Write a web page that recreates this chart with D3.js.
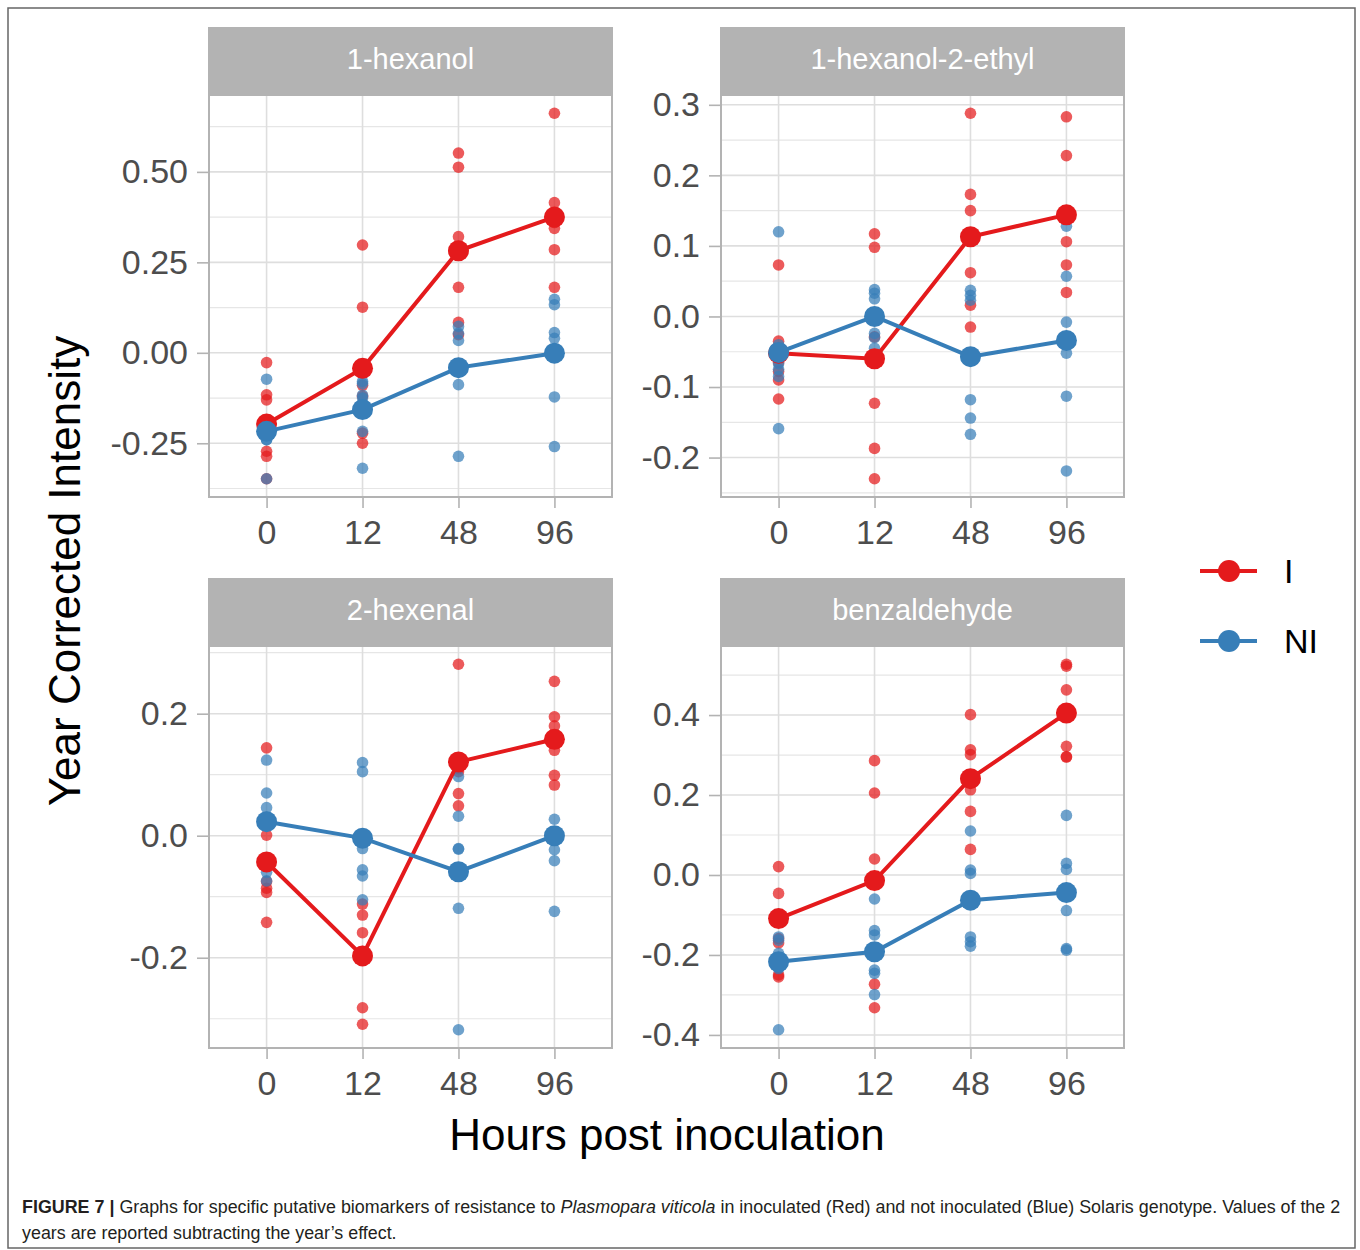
<!DOCTYPE html>
<html>
<head>
<meta charset="utf-8">
<script src="https://cdn.jsdelivr.net/npm/d3@7"></script>
<style>
  body { margin: 0; background: #fff; }
  svg text { font-family: "Liberation Sans", Arial, Helvetica, sans-serif; }
</style>
</head>
<body>
<div id="chart"></div>
<script>
//////// DATA ////////
var compounds = ["1-hexanol", "1-hexanol-2-ethyl", "2-hexenal", "benzaldehyde"];
var hours = ["0", "12", "48", "96"];
var groups = ["I", "NI"];

// y tick values and labels per panel
var yTicks = [
  [-0.25, 0, 0.25, 0.5],
  [-0.2, -0.1, 0, 0.1, 0.2, 0.3],
  [-0.2, 0, 0.2],
  [-0.4, -0.2, 0, 0.2, 0.4]
];
var yTickLabels = [
  ["-0.25", "0.00", "0.25", "0.50"],
  ["-0.2", "-0.1", "0.0", "0.1", "0.2", "0.3"],
  ["-0.2", "0.0", "0.2"],
  ["-0.4", "-0.2", "0.0", "0.2", "0.4"]
];
var yMinor = [
  [-0.375, -0.125, 0.125, 0.375, 0.625],
  [-0.25, -0.15, -0.05, 0.05, 0.15, 0.25],
  [-0.3, -0.1, 0.1, 0.3],
  [-0.3, -0.1, 0.1, 0.3, 0.5]
];

// raw observations (6 per hour) - inoculated
var hexanolI = [[-0.027, -0.116, -0.13, -0.272, -0.286, -0.348], [0.298, 0.126, -0.09, -0.12, -0.222, -0.25], [0.552, 0.513, 0.321, 0.181, 0.084, 0.05], [0.662, 0.415, 0.344, 0.285, 0.181, 0.36]];
var ethylI   = [[0.073, -0.035, -0.065, -0.078, -0.09, -0.117], [0.117, 0.098, -0.029, -0.123, -0.187, -0.230], [0.288, 0.173, 0.15, 0.062, 0.016, -0.015], [0.283, 0.228, 0.14, 0.106, 0.073, 0.034]];
var hexenalI = [[0.144, 0.001, -0.075, -0.086, -0.093, -0.142], [-0.112, -0.13, -0.159, -0.19, -0.282, -0.309], [0.281, 0.11, 0.115, 0.105, 0.069, 0.049], [0.253, 0.195, 0.18, 0.14, 0.099, 0.083]];
var benzI    = [[0.021, -0.046, -0.159, -0.17, -0.25, -0.255], [0.286, 0.205, 0.04, -0.01, -0.273, -0.332], [0.401, 0.313, 0.301, 0.213, 0.159, 0.064], [0.527, 0.522, 0.463, 0.322, 0.296, 0.295]];

// raw observations - not inoculated
var hexanolNI = [[-0.073, -0.19, -0.21, -0.24, -0.24, -0.348], [-0.079, -0.085, -0.117, -0.125, -0.217, -0.319], [0.073, 0.054, 0.034, -0.03, -0.088, -0.286], [0.148, 0.133, 0.056, 0.04, -0.122, -0.259]];
var ethylNI   = [[0.12, -0.04, -0.067, -0.075, -0.085, -0.159], [0.038, 0.033, 0.025, -0.024, -0.03, -0.045], [0.037, 0.03, 0.023, -0.118, -0.144, -0.167], [0.128, 0.057, -0.008, -0.052, -0.113, -0.219]];
var hexenalNI = [[0.124, 0.07, 0.046, 0.03, -0.06, -0.074], [0.12, 0.105, -0.021, -0.056, -0.066, -0.105], [0.097, 0.032, -0.021, -0.022, -0.119, -0.318], [0.027, 0.0, -0.005, -0.023, -0.041, -0.124]];
var benzNI    = [[-0.155, -0.163, -0.196, -0.23, -0.234, -0.387], [-0.06, -0.139, -0.15, -0.238, -0.246, -0.299], [0.11, 0.0125, 0.004, -0.155, -0.167, -0.178], [0.149, 0.029, 0.014, -0.089, -0.184, -0.188]];

// group means per hour
var meanI  = [[-0.197, -0.043, 0.282, 0.375], [-0.052, -0.06, 0.113, 0.144], [-0.043, -0.197, 0.121, 0.158], [-0.109, -0.014, 0.241, 0.405]];
var meanNI = [[-0.217, -0.157, -0.041, -0.001], [-0.051, 0.0, -0.057, -0.034], [0.023, -0.004, -0.059, 0.0], [-0.217, -0.192, -0.063, -0.044]];

var rawI = [hexanolI, ethylI, hexenalI, benzI];
var rawNI = [hexanolNI, ethylNI, hexenalNI, benzNI];

//////// LAYOUT ////////
var W = 1360, H = 1250;
var colors = { I: "#E41A1C", NI: "#377EB8" };
var panelLeft = [209, 721], panelTop = [95, 646];
var pw = 403, ph = 402, stripH = 67;

var svg = d3.select("#chart").append("svg")
  .attr("width", W).attr("height", H);

// outer frame
svg.append("rect")
  .attr("x", 8).attr("y", 8).attr("width", 1347).attr("height", 1240)
  .attr("fill", "none").attr("stroke", "#666").attr("stroke-width", 1.5);

compounds.forEach(function(name, i) {
  var px = panelLeft[i % 2], py = panelTop[Math.floor(i / 2)];
  var g = svg.append("g").attr("transform", "translate(" + px + "," + py + ")");

  var x = d3.scalePoint().domain(hours).range([0, pw]).padding(0.6);

  var all = d3.merge(rawI[i]).concat(d3.merge(rawNI[i]), meanI[i], meanNI[i]);
  var ext = d3.extent(all), pad = (ext[1] - ext[0]) * 0.05;
  var y = d3.scaleLinear().domain([ext[0] - pad, ext[1] + pad]).range([ph, 0]);

  // grid
  g.selectAll(".minor").data(yMinor[i]).enter().append("line")
    .attr("x1", 0).attr("x2", pw)
    .attr("y1", function(d) { return y(d); }).attr("y2", function(d) { return y(d); })
    .attr("stroke", "#e6e6e6").attr("stroke-width", 1.2);
  g.selectAll(".major").data(yTicks[i]).enter().append("line")
    .attr("x1", 0).attr("x2", pw)
    .attr("y1", function(d) { return y(d); }).attr("y2", function(d) { return y(d); })
    .attr("stroke", "#dedede").attr("stroke-width", 1.6);
  g.selectAll(".vgrid").data(hours).enter().append("line")
    .attr("y1", 0).attr("y2", ph)
    .attr("x1", function(d) { return x(d); }).attr("x2", function(d) { return x(d); })
    .attr("stroke", "#dedede").attr("stroke-width", 1.6);

  // axes
  var yAxis = g.append("g").call(d3.axisLeft(y).tickValues(yTicks[i])
      .tickFormat(function(d, k) { return yTickLabels[i][k]; })
      .tickSize(12).tickPadding(9));
  var xAxis = g.append("g").attr("transform", "translate(0," + ph + ")")
    .call(d3.axisBottom(x).tickSize(11).tickPadding(12));
  [yAxis, xAxis].forEach(function(a) {
    a.select(".domain").remove();
    a.selectAll(".tick line").attr("stroke", "#b3b3b3").attr("stroke-width", 1.6);
    a.selectAll(".tick text").attr("fill", "#4d4d4d").style("font-size", "34px")
      .style("font-family", "'Liberation Sans', Arial, sans-serif");
  });

  // raw points
  groups.forEach(function(grp) {
    var raw = grp === "I" ? rawI[i] : rawNI[i];
    var pts = [];
    raw.forEach(function(vals, h) {
      vals.forEach(function(v) { pts.push({ h: hours[h], v: v }); });
    });
    g.selectAll(".pt" + grp).data(pts).enter().append("circle")
      .attr("cx", function(d) { return x(d.h); })
      .attr("cy", function(d) { return y(d.v); })
      .attr("r", 5.8)
      .attr("fill", colors[grp]).attr("fill-opacity", 0.72);
  });

  // mean lines and points
  groups.forEach(function(grp) {
    var m = grp === "I" ? meanI[i] : meanNI[i];
    var line = d3.line().x(function(d, k) { return x(hours[k]); }).y(function(d) { return y(d); });
    g.append("path").datum(m).attr("d", line)
      .attr("fill", "none").attr("stroke", colors[grp]).attr("stroke-width", 4);
    g.selectAll(".mean" + grp).data(m).enter().append("circle")
      .attr("cx", function(d, k) { return x(hours[k]); })
      .attr("cy", function(d) { return y(d); })
      .attr("r", 10.5).attr("fill", colors[grp]);
  });

  // panel border
  g.append("rect").attr("width", pw).attr("height", ph)
    .attr("fill", "none").attr("stroke", "#b3b3b3").attr("stroke-width", 2);

  // strip
  g.append("rect").attr("x", -1).attr("y", -stripH - 1).attr("width", pw + 2).attr("height", stripH)
    .attr("fill", "#b3b3b3");
  g.append("text").attr("x", pw / 2).attr("y", -stripH / 2 - 3)
    .attr("text-anchor", "middle").attr("dominant-baseline", "central")
    .attr("fill", "#fff").style("font-size", "29px").text(name);
});

// axis titles
svg.append("text")
  .attr("transform", "translate(80,571) rotate(-90)")
  .attr("text-anchor", "middle").style("font-size", "44px").attr("fill", "#000")
  .text("Year Corrected Intensity");
svg.append("text")
  .attr("x", 667).attr("y", 1150)
  .attr("text-anchor", "middle").style("font-size", "44px").attr("fill", "#000")
  .text("Hours post inoculation");

// legend
var legend = svg.append("g").attr("transform", "translate(1200,571)");
groups.forEach(function(grp, k) {
  var lg = legend.append("g").attr("transform", "translate(0," + (k * 70) + ")");
  lg.append("line").attr("x1", 0).attr("x2", 57).attr("stroke", colors[grp]).attr("stroke-width", 4);
  lg.append("circle").attr("cx", 29).attr("r", 11).attr("fill", colors[grp]);
  lg.append("text").attr("x", 84).attr("dominant-baseline", "central")
    .style("font-size", "34px").attr("fill", "#000").text(grp);
});

// caption
var cap1 = svg.append("text").attr("x", 22).attr("y", 1213).style("font-size", "17px").attr("fill", "#231f20");
cap1.append("tspan").style("font-weight", "bold").text("FIGURE 7 | ");
cap1.append("tspan").text("Graphs for specific putative biomarkers of resistance to ");
cap1.append("tspan").style("font-style", "italic").text("Plasmopara viticola");
cap1.append("tspan").text(" in inoculated (Red) and not inoculated (Blue) Solaris genotype. Values of the 2");
var cap2 = svg.append("text").attr("x", 22).attr("y", 1239).style("font-size", "17px").attr("fill", "#231f20")
  .text("years are reported subtracting the year\u2019s effect.");
var len = cap1.node().getComputedTextLength();
var fs = 17 * 1320 / len;
cap1.style("font-size", fs + "px");
cap2.style("font-size", fs + "px");
</script>
</body>
</html>
